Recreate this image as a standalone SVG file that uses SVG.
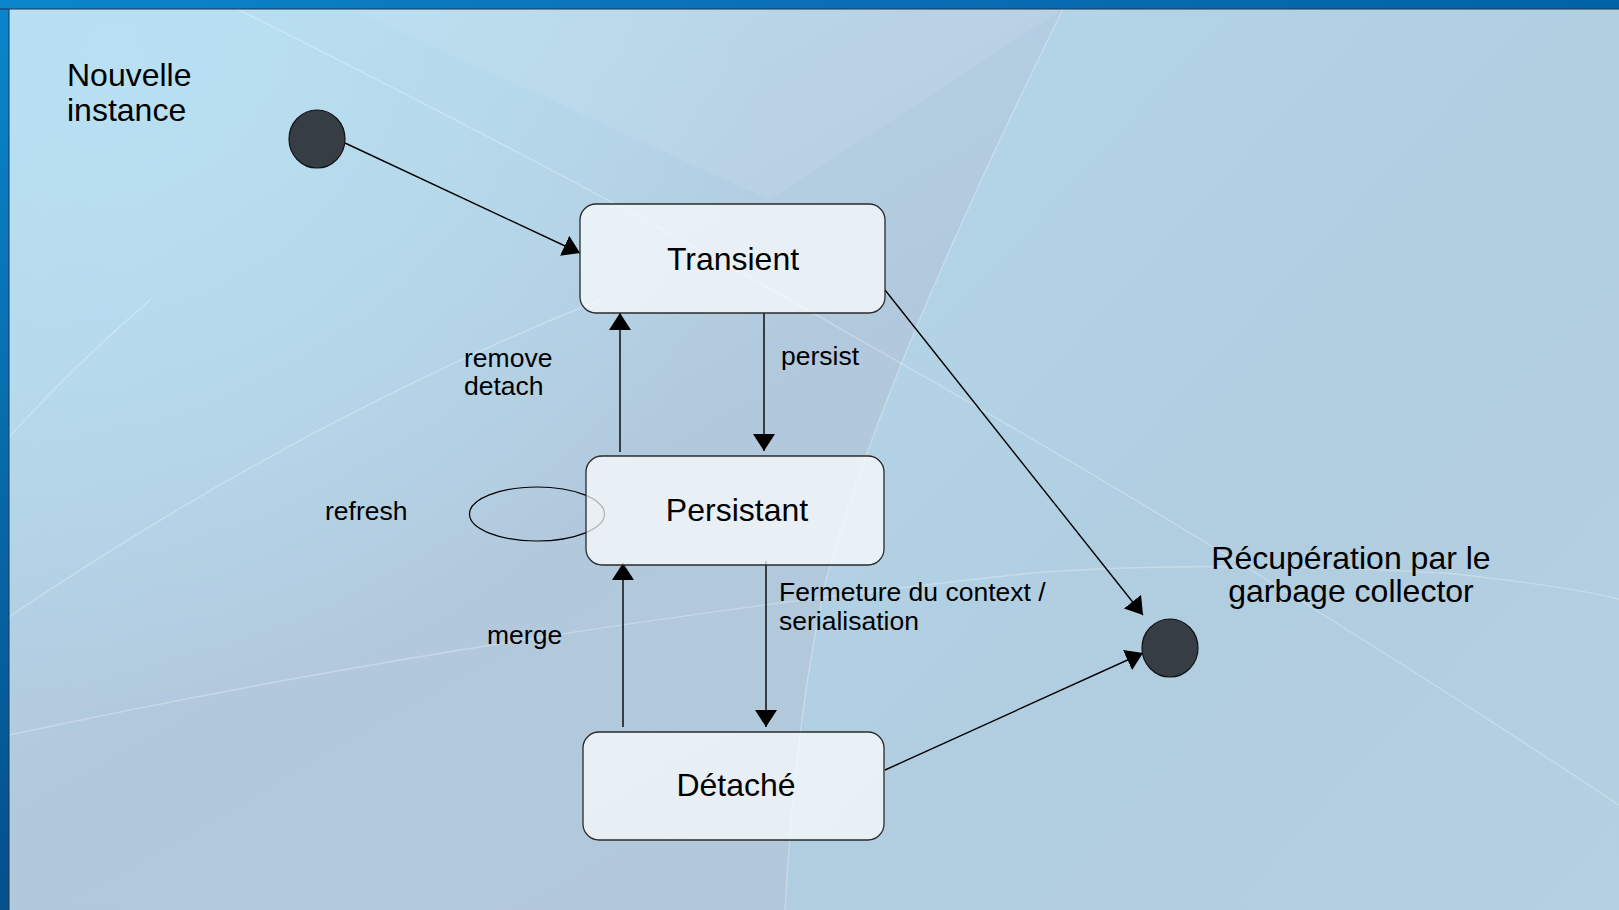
<svg xmlns="http://www.w3.org/2000/svg" width="1619" height="910" viewBox="0 0 1619 910">
  <defs>
    <linearGradient id="topBand" x1="0" y1="0" x2="1" y2="0">
      <stop offset="0" stop-color="#0a86cc"/>
      <stop offset="0.5" stop-color="#0b6fb5"/>
      <stop offset="1" stop-color="#0063a8"/>
    </linearGradient>
    <linearGradient id="leftBand" x1="0" y1="0" x2="0" y2="1">
      <stop offset="0" stop-color="#0a86cc"/>
      <stop offset="1" stop-color="#044f8c"/>
    </linearGradient>
    <linearGradient id="baseGrad" x1="0" y1="0" x2="1" y2="1">
      <stop offset="0" stop-color="#b6dcee"/>
      <stop offset="0.45" stop-color="#b2c9dd"/>
      <stop offset="1" stop-color="#b3c8d8"/>
    </linearGradient>
    <linearGradient id="rightGrad" x1="0" y1="0" x2="1" y2="1">
      <stop offset="0" stop-color="#b4d6e9"/>
      <stop offset="0.6" stop-color="#b1cde0"/>
      <stop offset="1" stop-color="#b4d0e1"/>
    </linearGradient>
    <radialGradient id="tlGlow" cx="120" cy="60" r="650" gradientUnits="userSpaceOnUse">
      <stop offset="0" stop-color="#b9e1f3" stop-opacity="0.9"/>
      <stop offset="1" stop-color="#b9e1f3" stop-opacity="0"/>
    </radialGradient>
    <marker id="arrow" markerUnits="userSpaceOnUse" markerWidth="18" markerHeight="22" refX="17" refY="11" orient="auto">
      <path d="M0,0 L17,11 L0,22 Z" fill="#000"/>
    </marker>
    <style>
      .bg-line { fill: none; stroke: #ffffff; stroke-opacity: 0.28; stroke-width: 1.4; }
      .state rect { fill: #ffffff; fill-opacity: 0.7; stroke: #2a2a2a; stroke-width: 1.3; }
      .pseudo { fill: #363d44; stroke: #111; stroke-width: 1.2; }
      .conn { fill: none; stroke: #000; stroke-width: 1.4; marker-end: url(#arrow); }
      .loop { fill: none; stroke: #000; stroke-width: 1.2; }
      .big { font-family: "Liberation Sans", Arial, sans-serif; font-size: 32px; fill: #000; }
      .small { font-family: "Liberation Sans", Arial, sans-serif; font-size: 26.5px; fill: #000; }
      .mid { text-anchor: middle; }
    </style>
  </defs>

  <!-- background -->
  <g id="background">
    <rect x="0" y="0" width="1619" height="910" fill="url(#leftBand)"/>
    <rect x="0" y="0" width="1619" height="9" fill="url(#topBand)"/>
    <rect x="9" y="9" width="1610" height="901" fill="url(#baseGrad)"/>
    <rect x="9" y="9" width="1610" height="901" fill="url(#tlGlow)"/>
    <path d="M1063,9 Q880,380 826,580 Q795,720 785,910 L1619,910 L1619,9 Z" fill="url(#rightGrad)"/>
    <polygon points="350,9 1063,9 770,200" fill="#ffffff" fill-opacity="0.08"/>
    <path class="bg-line" d="M237,9 Q600,190 860,340 Q1250,560 1619,805"/>
    <path class="bg-line" d="M1063,9 Q880,380 826,580 Q795,720 785,910" stroke-opacity="0.12"/>
    <path class="bg-line" d="M9,735 Q500,630 1032,573 Q1200,560 1445,573 Q1560,585 1619,599"/>
    <path class="bg-line" d="M9,617 Q300,420 600,300" stroke-opacity="0.15"/>
    <path class="bg-line" d="M9,437 Q80,360 150,300" stroke-opacity="0.12"/>
    <line x1="0" y1="9" x2="1619" y2="9" stroke="#1b3550" stroke-width="1.2"/>
    <line x1="9" y1="9" x2="9" y2="910" stroke="#1b3550" stroke-width="1"/>
  </g>

  <!-- connectors -->
  <g id="connectors">
    <line class="conn" x1="345" y1="143" x2="580" y2="253"/>
    <line class="conn" x1="620" y1="452" x2="620" y2="313"/>
    <line class="conn" x1="764" y1="313" x2="764" y2="451"/>
    <line class="conn" x1="766" y1="561" x2="766" y2="727"/>
    <line class="conn" x1="623" y1="727" x2="623" y2="563"/>
    <line class="conn" x1="885" y1="290" x2="1143" y2="615"/>
    <line class="conn" x1="885" y1="770" x2="1143" y2="653"/>
    <ellipse class="loop" cx="537" cy="514" rx="67.5" ry="27"/>
  </g>

  <!-- labels -->
  <g id="labels">
    <text class="big" x="67" y="85.5">Nouvelle</text>
    <text class="big" x="67" y="120.5">instance</text>
    <text class="big mid" x="1351" y="568.5">Récupération par le</text>
    <text class="big mid" x="1351" y="602">garbage collector</text>
    <text class="small" x="464" y="367">remove</text>
    <text class="small" x="464" y="395">detach</text>
    <text class="small" x="781" y="365">persist</text>
    <text class="small" x="325" y="520">refresh</text>
    <text class="small" x="487" y="644">merge</text>
    <text class="small" x="779" y="601">Fermeture du context /</text>
    <text class="small" x="779" y="630">serialisation</text>
  </g>

  <!-- nodes -->
  <g id="node-start">
    <ellipse class="pseudo" cx="317" cy="139" rx="28" ry="29"/>
  </g>
  <g id="node-transient" class="state">
    <rect x="580" y="204" width="305" height="109" rx="16" ry="16"/>
    <text class="big mid" x="733" y="270">Transient</text>
  </g>
  <g id="node-persistant" class="state">
    <rect x="586" y="456" width="298" height="109" rx="16" ry="16"/>
    <text class="big mid" x="737" y="521">Persistant</text>
  </g>
  <g id="node-detache" class="state">
    <rect x="583" y="732" width="301" height="108" rx="16" ry="16"/>
    <text class="big mid" x="736" y="796">Détaché</text>
  </g>
  <g id="node-end">
    <ellipse class="pseudo" cx="1170" cy="648" rx="28" ry="29"/>
  </g>
</svg>
